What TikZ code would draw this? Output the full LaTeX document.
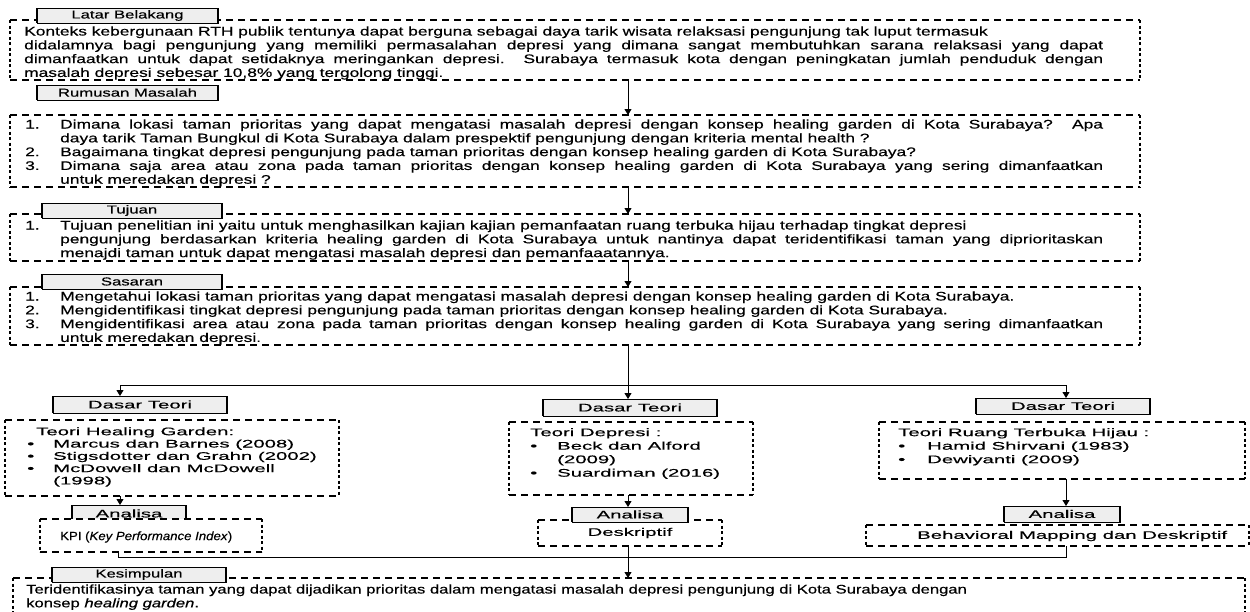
\documentclass[tikz,border=0pt]{standalone}
\usepackage{fontspec}
\setmainfont{Liberation Sans}
\newfontfamily\topf[FakeStretch=1.39,FakeBold=0.4]{Liberation Sans}
\newfontfamily\hdrf[FakeStretch=1.45,FakeBold=0.4]{Liberation Sans}
\newfontfamily\kesf[FakeStretch=1.33,FakeBold=0.4]{Liberation Sans}
\newfontfamily\botf[FakeStretch=1.85,FakeBold=0.4]{Liberation Sans}
\newfontfamily\kpif[FakeStretch=1.1,FakeBold=0.3]{Liberation Sans}
\usetikzlibrary{arrows.meta}
\tikzset{
  box/.style={anchor=north west, inner sep=0pt, outer sep=0pt},
  hd/.style={line width=1.3pt, dash pattern=on 7pt off 5pt},
  vd/.style={line width=1.3pt, dash pattern=on 3pt off 2.5pt},
  hdrT/.style={anchor=north west, draw, fill=gray!13, line width=0.9pt, inner sep=0pt, outer sep=0pt,
     minimum height=15pt, font=\hdrf\fontsize{11.5}{12}\selectfont},
  hdrB/.style={anchor=north west, draw, fill=gray!13, line width=0.9pt, inner sep=0pt, outer sep=0pt,
     minimum height=16pt, font=\botf\fontsize{11}{13}\selectfont},
  side/.style={line width=2pt},
  ttext/.style={anchor=north west, inner sep=0pt, align=left, font=\topf\fontsize{12.5}{12.5}\selectfont},
  ktext/.style={anchor=north west, inner sep=0pt, align=left, font=\kesf\fontsize{12.5}{12.5}\selectfont},
  btextA/.style={anchor=north west, inner sep=0pt, align=left, font=\botf\fontsize{11}{12.3}\selectfont},
  btextB/.style={anchor=north west, inner sep=0pt, align=left, font=\botf\fontsize{11}{13.5}\selectfont},
  arr/.style={-{Triangle[width=7pt,length=6pt]}, line width=0.9pt},
  link/.style={line width=0.9pt},
}
\newcommand\dashedges[1]{%
  \draw[hd] (#1.north west) -- (#1.north east) (#1.south west) -- (#1.south east);
  \draw[vd] (#1.north west) -- (#1.south west) (#1.north east) -- (#1.south east);}
\newcommand\hsides[1]{%
  \draw[side] (#1.north west) -- (#1.south west) (#1.north east) -- (#1.south east);}
\newcommand\jl[2]{\makebox[#1][s]{#2}}
\begin{document}
\begin{tikzpicture}[x=1pt,y=-1pt]
\useasboundingbox (0,0) rectangle (1250,611);
\coordinate (ax) at (628,0);
\coordinate (jL) at (120,385);
\coordinate (jM) at (628,385);
\coordinate (jR) at (1066,385);
\coordinate (kL) at (118,557);
\coordinate (kM) at (628,557);
\coordinate (kR) at (1066,557);
% dashed boxes
\node[box, minimum width=1130pt, minimum height=60pt] (latar) at (10,20) {};
\node[box, minimum width=1130pt, minimum height=72pt] (rum) at (10,115) {};
\node[box, minimum width=1130pt, minimum height=47pt] (tuj) at (10,214) {};
\node[box, minimum width=1130pt, minimum height=58pt] (sas) at (10,287) {};
\node[box, minimum width=334pt, minimum height=76pt] (boxL) at (5,420) {};
\node[box, minimum width=244pt, minimum height=73pt] (boxM) at (509,422) {};
\node[box, minimum width=366pt, minimum height=57pt] (boxR) at (879,422) {};
\node[box, minimum width=184pt, minimum height=26pt] (desk) at (538,520) {};
\node[box, minimum width=383pt, minimum height=21pt] (beh) at (866,525) {};
\node[box, minimum width=1232pt, minimum height=50pt] (kes) at (13,578) {};
\foreach \b in {latar,rum,tuj,sas,boxL,boxM,boxR,desk,beh,kes}{\dashedges{\b}}
% headers
\node[hdrT, minimum width=181pt] (hlatar) at (37,8) {Latar Belakang};
\node[hdrT, minimum width=181pt] (hrum) at (37,85) {Rumusan Masalah};
\node[hdrT, minimum width=180pt] (htuj) at (42,203) {Tujuan};
\node[hdrT, minimum width=180pt] (hsas) at (42,274) {Sasaran};
\node[hdrB, minimum width=174pt, minimum height=17pt] (dtL) at (53,396) {Dasar Teori};
\node[hdrB, minimum width=174pt, minimum height=17pt] (dtM) at (543,399) {Dasar Teori};
\node[hdrB, minimum width=174pt] (dtR) at (976,398) {Dasar Teori};
\node[hdrB, minimum width=114pt, minimum height=17pt] (anL) at (72,505) {Analisa};
\node[hdrB, minimum width=116pt, minimum height=15pt] (anM) at (572,507) {Analisa};
\node[hdrB, minimum width=116pt] (anR) at (1004,506) {Analisa};
\node[hdrT, minimum width=174pt] (hkes) at (52,567) {Kesimpulan};
\foreach \h in {hlatar,hrum,htuj,hsas,dtL,dtM,dtR,anL,anM,anR,hkes}{\hsides{\h}}
% KPI box over the left Analisa header
\node[box, fill=white, minimum width=222pt, minimum height=33pt] (kpi) at (40,519) {};
\dashedges{kpi}
\node[anchor=west, inner sep=0pt, font=\kpif\fontsize{12}{14}\selectfont] (tkpi) at (60,537) {KPI (\textit{Key Performance Index})};
% texts
\node[ttext] (tlatar) at (24,26.25) {%
\strut Konteks kebergunaan RTH publik tentunya dapat berguna sebagai daya tarik wisata relaksasi pengunjung tak luput termasuk\\
\strut\jl{1079pt}{didalamnya bagi pengunjung yang memiliki permasalahan depresi yang dimana sangat membutuhkan sarana relaksasi yang dapat}\\
\strut\jl{1079pt}{dimanfaatkan untuk dapat setidaknya meringankan depresi. Surabaya termasuk kota dengan peningkatan jumlah penduduk dengan}\\
\strut masalah depresi sebesar 10,8\% yang tergolong tinggi.};
\node[ttext] (trum) at (25,119.25) {%
\strut\makebox[35pt][l]{1.}\jl{1043pt}{Dimana lokasi taman prioritas yang dapat mengatasi masalah depresi dengan konsep healing garden di Kota Surabaya? Apa}\\
\strut\hspace*{35pt}daya tarik Taman Bungkul di Kota Surabaya dalam prespektif pengunjung dengan kriteria mental health ?\\
\strut\makebox[35pt][l]{2.}Bagaimana tingkat depresi pengunjung pada taman prioritas dengan konsep healing garden di Kota Surabaya?\\
\strut\makebox[35pt][l]{3.}\jl{1043pt}{Dimana saja area atau zona pada taman prioritas dengan konsep healing garden di Kota Surabaya yang sering dimanfaatkan}\\
\strut\hspace*{35pt}untuk meredakan depresi ?};
\node[ttext] (ttuj) at (25,220.25) {%
\strut\makebox[35pt][l]{1.}Tujuan penelitian ini yaitu untuk menghasilkan kajian kajian pemanfaatan ruang terbuka hijau terhadap tingkat depresi\\
\strut\hspace*{35pt}\jl{1043pt}{pengunjung berdasarkan kriteria healing garden di Kota Surabaya untuk nantinya dapat teridentifikasi taman yang diprioritaskan}\\
\strut\hspace*{35pt}menajdi taman untuk dapat mengatasi masalah depresi dan pemanfaaatannya.};
\node[ttext] (tsas) at (25,291.25) {%
\strut\makebox[35pt][l]{1.}Mengetahui lokasi taman prioritas yang dapat mengatasi masalah depresi dengan konsep healing garden di Kota Surabaya.\\
\strut\makebox[35pt][l]{2.}Mengidentifikasi tingkat depresi pengunjung pada taman prioritas dengan konsep healing garden di Kota Surabaya.\\
\strut\makebox[35pt][l]{3.}\jl{1043pt}{Mengidentifikasi area atau zona pada taman prioritas dengan konsep healing garden di Kota Surabaya yang sering dimanfaatkan}\\
\strut\hspace*{35pt}untuk meredakan depresi.};
\node[ktext] (tkes) at (26,584.25) {%
\strut Teridentifikasinya taman yang dapat dijadikan prioritas dalam mengatasi masalah depresi pengunjung di Kota Surabaya dengan\\
\strut konsep \textit{healing garden}.};
\node[btextA] (tboxL) at (27,426.4) {%
\strut\hspace*{9pt}Teori Healing Garden:\\
\strut\makebox[26pt][l]{\textbullet}Marcus dan Barnes (2008)\\
\strut\makebox[26pt][l]{\textbullet}Stigsdotter dan Grahn (2002)\\
\strut\makebox[26pt][l]{\textbullet}McDowell dan McDowell\\
\strut\hspace*{26pt}(1998)};
\node[btextB] (tboxM) at (530,426.5) {%
\strut Teori Depresi :\\
\strut\makebox[27pt][l]{\textbullet}Beck dan Alford\\
\strut\hspace*{27pt}(2009)\\
\strut\makebox[27pt][l]{\textbullet}Suardiman (2016)};
\node[btextB] (tboxR) at (898,426.5) {%
\strut Teori Ruang Terbuka Hijau :\\
\strut\makebox[29pt][l]{\textbullet}Hamid Shirvani (1983)\\
\strut\makebox[29pt][l]{\textbullet}Dewiyanti (2009)};
\node[inner sep=0pt, font=\botf\fontsize{11}{13}\selectfont] (tdesk) at (desk.center) {Deskriptif};
\node[anchor=west, inner sep=0pt, font=\botf\fontsize{11}{13}\selectfont] (tbeh) at (917,536) {Behavioral Mapping dan Deskriptif};
% connectors
\draw[arr] (latar.south -| ax) -- (rum.north -| ax);
\draw[arr] (rum.south -| ax) -- (tuj.north -| ax);
\draw[arr] (tuj.south -| ax) -- (sas.north -| ax);
\draw[link] (sas.south -| jM) -- (jM);
\draw[link] (jL) -- (jR);
\draw[arr] (jL) -- (jL |- dtL.north);
\draw[arr] (jM) -- (jM |- dtM.north);
\draw[arr] (jR) -- (jR |- dtR.north);
\draw[arr] (boxL.south -| jL) -- (anL.north -| jL);
\draw[arr] (boxM.south -| jM) -- (anM.north -| jM);
\draw[arr] (boxR.south -| jR) -- (anR.north -| jR);
\draw[link] (kpi.south -| kL) -- (kL) -- (kR) -- (beh.south -| kR);
\draw[link] (desk.south -| kM) -- (kM);
\draw[arr] (kM) -- (kes.north -| kM);
\end{tikzpicture}
\end{document}
